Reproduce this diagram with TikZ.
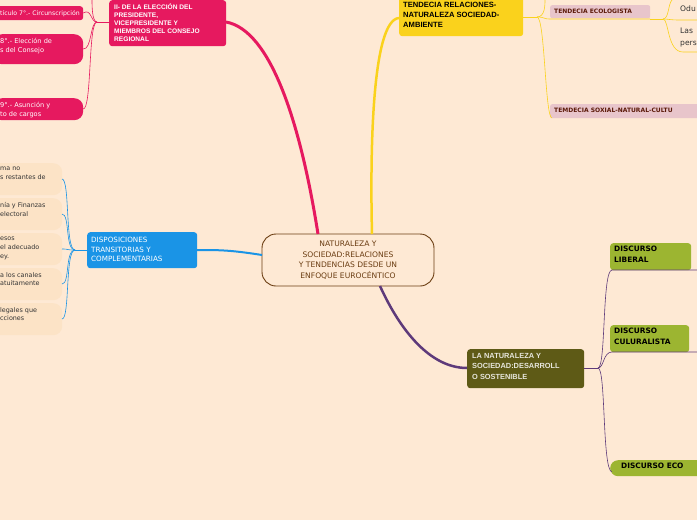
\documentclass[tikz,border=0pt]{standalone}
\usepackage{fontspec}
\setmainfont{DejaVu Sans}
\newfontfamily\arialf{Liberation Sans}
\usetikzlibrary{calc}
\definecolor{bg}{HTML}{FEE9D4}
\definecolor{pinkc}{HTML}{E6195F}
\definecolor{bluec}{HTML}{1A94E6}
\definecolor{yelc}{HTML}{FAD21C}
\definecolor{olivec}{HTML}{5E5A16}
\definecolor{purpc}{HTML}{5E3A7A}
\definecolor{greenc}{HTML}{9CB531}
\definecolor{ecoc}{HTML}{E8C5CB}
\definecolor{brownc}{HTML}{6B3D12}
\definecolor{leafc}{HTML}{FCE3C6}
\tikzset{
 box/.style={rounded corners=3pt,inner sep=0pt,anchor=north west},
 pinkbox/.style={box,fill=pinkc,text=white},
 leaf/.style={box,fill=leafc,rounded corners=9pt},
 greenbox/.style={box,fill=greenc},
 txt/.style={inner sep=0pt,anchor=north west,align=left},
}
\begin{document}
\begin{tikzpicture}[x=1pt,y=-1pt]
\fill[bg] (0,0) rectangle (697,520);
\useasboundingbox (0,0) rectangle (697,520);
% center
\node[draw=brownc,line width=0.9pt,rounded corners=14pt,minimum width=172pt,minimum height=52pt,text=brownc,align=center,font=\fontsize{7.6}{10.5}\selectfont] (c) at (348,260) {NATURALEZA Y\\SOCIEDAD:RELACIONES\\Y TENDENCIAS DESDE UN\\ENFOQUE EUROCÉNTICO};
% pink node
\node[pinkbox,minimum width=117pt,minimum height=46pt] (p) at (109,0) {};
\node[txt,text=white,font=\arialf\bfseries\fontsize{6.6}{8.2}\selectfont] at (114,3) {II- DE LA ELECCIÓN DEL\\PRESIDENTE,\\VICEPRESIDENTE Y\\MIEMBROS DEL CONSEJO\\REGIONAL};
\draw[pinkc,line width=3pt] (318,234) .. controls (300,120) and (270,30) .. (226,22);
\coordinate (pb) at (97,22);
\draw[pinkc,line width=0.8pt] (109,22) -- (pb);
\node[pinkbox,minimum width=90pt,minimum height=14pt] (p1) at (-7,6) {};
\node[pinkbox,rounded corners=9pt,minimum width=90pt,minimum height=30pt] (p2) at (-7,34) {};
\node[pinkbox,rounded corners=9pt,minimum width=90pt,minimum height=22pt] (p3) at (-7,98) {};
\node[txt,text=white,font=\fontsize{6.2}{8}\selectfont] at (0,10) {tículo 7°.- Circunscripción};
\node[txt,text=white,font=\fontsize{6.6}{9}\selectfont] at (0,38) {8°.- Elección de\\s del Consejo};
\node[txt,text=white,font=\fontsize{6.6}{9}\selectfont] at (0,102) {9°.- Asunción y\\to de cargos};
\draw[pinkc,line width=0.6pt] (pb) .. controls (90,22) and (92,8) .. (83,13);
\draw[pinkc,line width=0.6pt] (pb) .. controls (90,22) and (92,50) .. (83,49);
\draw[pinkc,line width=0.6pt] (pb) .. controls (88,22) and (92,110) .. (83,109);
\draw[pinkc,line width=0.6pt] (pb) .. controls (92,22) and (92,5) .. (92,0);
% blue
\node[box,fill=bluec,minimum width=110pt,minimum height=36pt] (b) at (87,232) {};
\node[txt,text=white,font=\fontsize{7.2}{9.5}\selectfont] at (91,237) {DISPOSICIONES\\TRANSITORIAS Y\\COMPLEMENTARIAS};
\draw[bluec,line width=2pt] (262,255) .. controls (230,250) and (220,250) .. (197,250);
\coordinate (bb) at (75,250);
\draw[bluec,line width=0.8pt] (87,250) -- (bb);
\foreach \y/\n in {163/1,198/2,233/3,268/4,303/5}{
  \node[leaf,minimum width=72pt,minimum height=32pt] (l\n) at (-10,\y) {};
  \draw[bluec,line width=0.6pt] (bb) .. controls (65,250) and (70,\y+16) .. (62,\y+16);
}
\node[txt,text=black!80,font=\fontsize{6.4}{8.8}\selectfont] at (0,167) {ma no\\s restantes de};
\node[txt,text=black!80,font=\fontsize{6.4}{8.8}\selectfont] at (0,202) {nía y Finanzas\\ electoral};
\node[txt,text=black!80,font=\fontsize{6.4}{8.8}\selectfont] at (0,237) {esos\\el adecuado\\ey.};
\node[txt,text=black!80,font=\fontsize{6.4}{8.8}\selectfont] at (0,272) {a los canales\\atuitamente};
\node[txt,text=black!80,font=\fontsize{6.4}{8.8}\selectfont] at (0,307) {legales que\\cciones};
% yellow
\node[box,fill=yelc,minimum width=124pt,minimum height=40pt] (y) at (399,-4) {};
\node[txt,text=black,font=\arialf\bfseries\fontsize{7.6}{10}\selectfont] at (403,1.5) {TENDECIA RELACIONES-\\NATURALEZA SOCIEDAD-\\AMBIENTE};
\draw[yelc,line width=2.5pt] (372,234) .. controls (370,150) and (372,20) .. (399,18);
\coordinate (yb) at (537,17);
\draw[yelc,line width=0.8pt] (523,17) -- (yb);
\node[box,fill=ecoc,rounded corners=2pt,minimum width=100pt,minimum height=13pt] (e1) at (550,5) {};
\node[txt,text=brownc!70!red!60!black,font=\bfseries\fontsize{6}{7}\selectfont] at (554,8.5) {TENDECIA ECOLOGISTA};
\node[box,fill=ecoc,rounded corners=2pt,minimum width=150pt,minimum height=14pt] (e2) at (550,104) {};
\node[txt,text=brownc!70!red!60!black,font=\bfseries\fontsize{6}{7}\selectfont] at (554,107.5) {TEMDECIA SOXIAL-NATURAL-CULTU};
\draw[yelc,line width=0.6pt] (yb) .. controls (545,17) and (543,19) .. (550,19) -- (650,19);
\draw[yelc,line width=0.6pt] (yb) .. controls (545,17) and (545,118) .. (552,118);
\draw[yelc,line width=0.6pt] (yb) .. controls (545,17) and (545,5) .. (545,0);
\coordinate (eb) at (663,19);
\draw[yelc,line width=0.6pt] (650,19) -- (eb);
\draw[yelc,line width=0.6pt] (eb) .. controls (669,19) and (668,4) .. (672,0);
\draw[yelc,line width=0.6pt] (eb) .. controls (669,19) and (669,20) .. (680,20) -- (697,20);
\draw[yelc,line width=0.6pt] (eb) .. controls (669,19) and (667,52) .. (683,52) -- (697,52);
\node[txt,text=black!80,font=\fontsize{7.6}{11.5}\selectfont] (t1) at (680,6) {Odu};
\node[txt,text=black!80,font=\fontsize{7.6}{11.5}\selectfont] (t2) at (680,28) {Las\\pers};
% olive
\node[box,fill=olivec,minimum width=117pt,minimum height=39pt] (o) at (467,349) {};
\node[txt,text=white!85!olivec,font=\arialf\bfseries\fontsize{7.4}{10.5}\selectfont] at (472,353) {LA NATURALEZA Y\\SOCIEDAD:DESARROLL\\O SOSTENIBLE};
\draw[purpc,line width=2.5pt] (380,286) .. controls (400,330) and (430,368) .. (467,368);
\coordinate (ob) at (598,368);
\draw[purpc,line width=0.8pt] (584,368) -- (ob);
\node[greenbox,minimum width=81pt,minimum height=27pt] (g1) at (610,243) {};
\node[txt,font=\bfseries\fontsize{7.4}{10.5}\selectfont] at (614,246) {DISCURSO\\LIBERAL};
\node[greenbox,minimum width=79pt,minimum height=27pt] (g2) at (610,325) {};
\node[txt,font=\bfseries\fontsize{7.4}{10.5}\selectfont] at (614,328) {DISCURSO\\CULURALISTA};
\node[greenbox,rounded corners=8pt,minimum width=95pt,minimum height=16pt] (g3) at (610,460) {};
\node[txt,font=\bfseries\fontsize{7.4}{9}\selectfont] at (621,463) {DISCURSO ECO};
\draw[purpc,line width=0.6pt] (ob) .. controls (606,368) and (602,270) .. (612,270) -- (697,270);
\draw[purpc,line width=0.6pt] (ob) .. controls (604,368) and (603,352) .. (612,352) -- (697,352);
\draw[purpc,line width=0.6pt] (ob) .. controls (606,368) and (602,470) .. (612,472);
\end{tikzpicture}
\end{document}
